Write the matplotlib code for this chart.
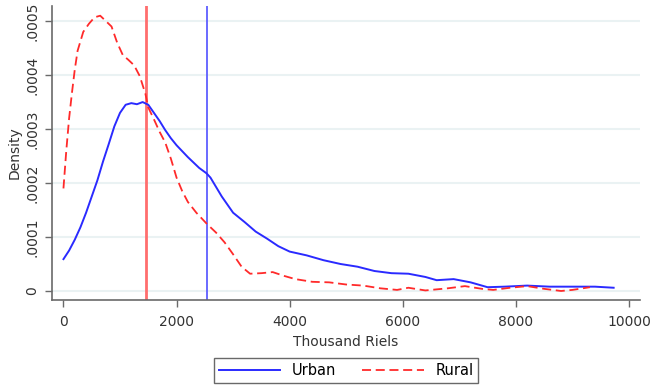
import matplotlib
matplotlib.use("Agg")
import matplotlib.pyplot as plt

# kernel density estimates of household consumption, thousand riels
urban_x = [0, 100, 200, 300, 400, 500, 600, 700, 800, 900, 1000, 1100, 1200,
           1300, 1400, 1500, 1600, 1700, 1800, 1900, 2000, 2200, 2400, 2530,
           2600, 2800, 3000, 3200, 3400, 3600, 3800, 4000, 4300, 4600, 4900,
           5200, 5500, 5800, 6100, 6400, 6600, 6900, 7200, 7500, 7800, 8200,
           8600, 9000, 9400, 9730]
urban_y = [0.000059, 0.000075, 0.000095, 0.000118, 0.000145, 0.000175,
           0.000205, 0.000240, 0.000272, 0.000305, 0.000330, 0.000345,
           0.000348, 0.000346, 0.000350, 0.000345, 0.000330, 0.000315,
           0.000298, 0.000283, 0.000270, 0.000248, 0.000228, 0.000218,
           0.000210, 0.000175, 0.000145, 0.000128, 0.000110, 0.000097,
           0.000083, 0.000073, 0.000066, 0.000057, 0.000050, 0.000045,
           0.000037, 0.000033, 0.000032, 0.000026, 0.000020, 0.000022,
           0.000016, 0.000007, 0.000008, 0.000010, 0.000008, 0.000008,
           0.000008, 0.000006]

rural_x = [0, 50, 100, 150, 200, 250, 350, 450, 550, 650, 750, 850, 950,
           1050, 1150, 1250, 1350, 1450, 1500, 1600, 1700, 1800, 1900, 2000,
           2100, 2200, 2350, 2530, 2700, 2850, 3000, 3150, 3300, 3500, 3700,
           3900, 4100, 4400, 4700, 5000, 5300, 5600, 5900, 6100, 6400, 6800,
           7100, 7400, 7600, 7900, 8200, 8500, 8800, 9000, 9310]
rural_y = [0.000190, 0.000260, 0.000320, 0.000367, 0.000410, 0.000445,
           0.000480, 0.000495, 0.000507, 0.000510, 0.000500, 0.000490,
           0.000460, 0.000437, 0.000428, 0.000418, 0.000398, 0.000365,
           0.000340, 0.000318, 0.000295, 0.000275, 0.000245, 0.000210,
           0.000185, 0.000165, 0.000145, 0.000125, 0.000108, 0.000090,
           0.000068, 0.000045, 0.000032, 0.000033, 0.000035, 0.000028,
           0.000022, 0.000017, 0.000016, 0.000012, 0.000010, 0.000005,
           0.000002, 0.000006, 0.000001, 0.000005, 0.000009, 0.000004,
           0.000002, 0.000006, 0.000009, 0.000004, 0.000000, 0.000002,
           0.000007]

# group means
urban_mean = 2530
rural_mean = 1453

x_ticks = [0, 2000, 4000, 6000, 8000, 10000]
y_ticks = [0, 0.0001, 0.0002, 0.0003, 0.0004, 0.0005]
y_labels = ["0", ".0001", ".0002", ".0003", ".0004", ".0005"]

plt.rcParams['font.family'] = ['DejaVu Sans']
fig = plt.figure(figsize=(6.53, 3.86), dpi=100)
ax = fig.add_axes([0.0796, 0.2228, 0.9004, 0.7617])

ax.set_xlim(-203, 10195)
ax.set_ylim(-0.0000167, 0.000528)

for yv in y_ticks:
    ax.axhline(yv, color="#eaf2f3", lw=1.5, zorder=0)

ax.axvline(rural_mean, color="#ff6e6e", lw=2.0, zorder=1)
ax.axvline(urban_mean, color="#5e5eff", lw=1.3, zorder=1)

ax.plot(urban_x, urban_y, color="#2a2aff", lw=1.4, label="Urban", zorder=3)
ax.plot(rural_x, rural_y, color="#ff2a2a", lw=1.3, dashes=(5.0, 2.6),
        label="Rural", zorder=3)

for side in ["top", "right"]:
    ax.spines[side].set_visible(False)
for side in ["left", "bottom"]:
    ax.spines[side].set_color("#6a6a6a")
    ax.spines[side].set_linewidth(1.2)

ax.set_xticks(x_ticks)
ax.set_yticks(y_ticks)
ax.set_yticklabels(y_labels, rotation=90, va="center")
ax.tick_params(axis="both", color="#6a6a6a", length=5, width=1,
               labelsize=10, labelcolor="#333333")
ax.tick_params(axis="x", pad=6)
ax.tick_params(axis="y", pad=4)

ax.set_xlabel("Thousand Riels", fontsize=10, color="#333333", labelpad=4)
ax.set_ylabel("Density", fontsize=10, color="#333333", labelpad=3)

fig.legend(loc="center", bbox_to_anchor=(0.53, 0.041), ncol=2,
           fontsize=10.5, frameon=True, fancybox=False, edgecolor="#444444",
           handlelength=4.2, handletextpad=0.8, columnspacing=1.8,
           borderpad=0.35)

fig.savefig("out.png", dpi=100)
